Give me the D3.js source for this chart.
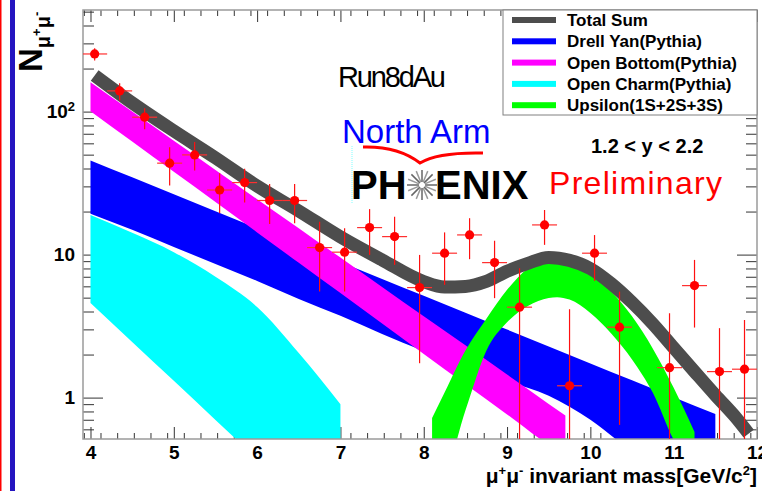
<!DOCTYPE html>
<html><head><meta charset="utf-8">
<script src="https://cdn.jsdelivr.net/npm/d3@7/dist/d3.min.js"></script>
<style>body{margin:0;background:#fff}svg{display:block}text{font-family:"Liberation Sans",Arial,Helvetica,sans-serif}</style>
</head><body><svg id="c" width="762" height="491"></svg>
<script>
// ---- data ----
const xMajorTicks = [4,5,6,7,8,9,10,11,12];
const yMajorTicks = [1,10,100];
const yTickLabels = ["1","10","10^2"];

const totalX  = [4.05,4.5,5.0,5.5,6.0,6.5,7.0,7.5,8.0,8.25,8.5,8.75,9.0,9.25,9.5,9.75,10.0,10.25,10.5,10.75,11.0,11.25,11.5,11.75,11.9];
const totalY  = [179,115.1,73.3,47.5,30.2,20.2,13.3,9.18,6.48,5.94,5.99,6.49,7.65,8.68,9.56,9.11,7.98,6.27,4.63,3.28,2.23,1.52,1.04,0.721,0.56];

const dyX  = [4.0,4.5,5.0,5.5,6.0,6.5,7.0,7.5,8.0,8.5,9.0,9.5,10.0,10.5,11.0,11.5];
const dyHi = [45.5,34.7,26.4,20.1,15.3,11.65,8.88,6.76,5.15,3.92,2.99,2.28,1.73,1.32,1.006,0.767];
const dyLo = [19.3,14.9,11.3,8.61,6.55,4.90,3.73,2.79,2.12,1.67,1.31,1.03,0.70,0.43,0.35,0.3];

const obX  = [4.0,4.5,5.0,5.5,6.0,6.5,7.0,7.5,8.0,8.5,9.0,9.5,9.7];
const obHi = [160.5,100.2,62.6,39.1,24.4,15.3,9.53,5.94,3.71,2.32,1.45,0.904,0.75];
const obLo = [100.7,61.8,37.9,23.3,14.3,8.76,5.38,3.30,2.02,1.24,0.763,0.468,0.40];

const ocX  = [4.0,4.5,5.0,5.5,6.0,6.5,7.0];
const ocHi = [18.95,14.2,10.4,7.0,4.3,2.05,0.9];
const ocLo = [4.59,2.45,1.31,0.698,0.373,0.2,0.107];

const upsX  = [8.1,8.25,8.5,8.75,9.0,9.25,9.5,9.6,9.75,10.0,10.25,10.5,10.75,11.0,11.25];
const upsHi = [0.721,1.086,2.135,3.55,5.67,8.01,9.27,9.26,8.99,7.45,5.52,3.70,2.20,1.17,0.575];
const upsLo = [0.3,0.312,0.814,2.12,3.36,4.38,4.98,5.04,4.85,3.91,2.81,1.85,1.08,0.506,0.3];

const ptX  = [4.05,4.35,4.65,4.95,5.25,5.55,5.85,6.15,6.45,6.75,7.05,7.35,7.65,7.95,8.25,8.55,8.85,9.15,9.45,9.75,10.05,10.35,10.95,11.25,11.55,11.85];
const ptY  = [253,139.6,91.4,43.6,49.8,28.3,31.9,23.9,23.9,11.2,10.4,15.45,13.36,5.88,10.23,13.73,8.79,4.29,16.13,1.21,10.23,3.11,1.62,6.07,1.52,1.58];
const ptHi = [277.5,158,105.6,56.4,61.4,37.1,39.9,31.2,31.2,17.0,15.3,20.8,18.4,9.95,14.3,17.97,12.5,8.03,20.5,4.15,13.7,5.51,3.89,9.18,3.06,3.49];
const ptLo = [227.3,119.4,75.3,30.4,38.7,19.5,23.1,16.4,16.6,5.51,5.51,9.95,8.47,1.74,6.14,9.29,4.96,0.3,11.7,0.1,6.55,0.644,0.1,3.09,0.1,0.1];
const ptXErr = 0.15;

const legendNames  = ["Total Sum","Drell Yan(Pythia)","Open Bottom(Pythia)","Open Charm(Pythia)","Upsilon(1S+2S+3S)"];
const legendColors = ["#4d4d4d","#0000ff","#ff00ff","#00ffff","#00ff00"];

// ---- layout ----
const L = 83, R = 757, T = 10, B = 439;
const svg = d3.select("#c");
const x = d3.scaleLinear().domain([3.91, 12]).range([L, R]);
const y = d3.scaleLog().domain([0.5135, 513.5]).range([B, T]);

// decorative left lines
svg.append("rect").attr("x",0).attr("y",0).attr("width",1.5).attr("height",491).attr("fill","#ff0000");
svg.append("rect").attr("x",10).attr("y",0).attr("width",5).attr("height",491).attr("fill","#2414c0");

svg.append("defs").append("clipPath").attr("id","frame")
  .append("rect").attr("x",L).attr("y",T).attr("width",R-L).attr("height",B-T);

// axes ticks
const xMinor = d3.range(3.92, 12.001, 0.2).map(v=>+v.toFixed(2)).filter(v=>v>3.91 && !xMajorTicks.some(m=>Math.abs(m-v)<1e-6));
const yMinor = [];
[0.1,1,10,100].forEach(d=>{for(let k=2;k<=9;k++){const v=d*k; if(v>0.5135 && v<513.5) yMinor.push(v);}});
const tickCol = "#333";
function styleAxis(g){ g.select(".domain").remove(); g.selectAll("line").attr("stroke",tickCol); }

svg.append("g").attr("transform",`translate(0,${B})`)
  .call(d3.axisBottom(x).tickValues(xMajorTicks).tickSize(-12).tickPadding(7).tickFormat(d3.format("d")))
  .call(styleAxis)
  .call(g=>g.selectAll("text").attr("font-size",19).attr("font-weight","bold").attr("fill","#000")
        .attr("font-family","Liberation Sans, Arial, sans-serif"));
svg.append("g").attr("transform",`translate(0,${B})`)
  .call(d3.axisBottom(x).tickValues(xMinor).tickSize(-6).tickFormat("")).call(styleAxis);
svg.append("g").attr("transform",`translate(0,${T})`)
  .call(d3.axisTop(x).tickValues(xMajorTicks).tickSize(-12).tickFormat("")).call(styleAxis);
svg.append("g").attr("transform",`translate(0,${T})`)
  .call(d3.axisTop(x).tickValues(xMinor).tickSize(-6).tickFormat("")).call(styleAxis);

const yl = svg.append("g").attr("transform",`translate(${L},0)`)
  .call(d3.axisLeft(y).tickValues(yMajorTicks).tickSize(-20).tickPadding(8).tickFormat((d,i)=>yTickLabels[i]))
  .call(styleAxis);
yl.selectAll("text").attr("font-size",19).attr("font-weight","bold").attr("fill","#000")
  .attr("font-family","Liberation Sans, Arial, sans-serif")
  .each(function(d,i){
    const lab = yTickLabels[i];
    if(lab.includes("^")){
      const [b,e] = lab.split("^");
      const t = d3.select(this).text(null);
      t.append("tspan").text(b);
      t.append("tspan").attr("font-size",13).attr("dy","-0.55em").text(e);
    }
  });
svg.append("g").attr("transform",`translate(${L},0)`)
  .call(d3.axisLeft(y).tickValues(yMinor).tickSize(-11).tickFormat("")).call(styleAxis);
svg.append("g").attr("transform",`translate(${R},0)`)
  .call(d3.axisRight(y).tickValues(yMajorTicks).tickSize(-20).tickFormat("")).call(styleAxis);
svg.append("g").attr("transform",`translate(${R},0)`)
  .call(d3.axisRight(y).tickValues(yMinor).tickSize(-11).tickFormat("")).call(styleAxis);

// bands
const plot = svg.append("g").attr("clip-path","url(#frame)");
function band(xs, lo, hi, color){
  const d = xs.map((v,i)=>({x:v, lo:lo[i], hi:hi[i]}));
  plot.append("path").datum(d)
    .attr("d", d3.area().x(p=>x(p.x)).y0(p=>y(p.lo)).y1(p=>y(p.hi)).curve(d3.curveMonotoneX))
    .attr("fill", color);
}
band(ocX, ocLo, ocHi, legendColors[3]);
band(dyX, dyLo, dyHi, legendColors[1]);
band(obX, obLo, obHi, legendColors[2]);
band(upsX, upsLo, upsHi, legendColors[4]);

// total sum thick line
svg.append("path").datum(totalX.map((v,i)=>({x:v,y:totalY[i]})))
  .attr("d", d3.line().x(p=>x(p.x)).y(p=>y(p.y)).curve(d3.curveMonotoneX))
  .attr("fill","none").attr("stroke",legendColors[0]).attr("stroke-width",13).attr("stroke-linecap","butt");

// frame
svg.append("rect").attr("x",L).attr("y",T).attr("width",R-L).attr("height",B-T)
  .attr("fill","none").attr("stroke","#9a9a9a").attr("stroke-width",1.5);

// data points
const pts = ptX.map((v,i)=>({x:v,y:ptY[i],lo:ptLo[i],hi:ptHi[i]}));
const pg = svg.append("g").attr("clip-path","url(#frame)");
pg.selectAll("line.v").data(pts).join("line").attr("class","v")
  .attr("x1",d=>x(d.x)).attr("x2",d=>x(d.x)).attr("y1",d=>y(d.lo)).attr("y2",d=>y(d.hi))
  .attr("stroke","#ff1010").attr("stroke-width",1.2);
pg.selectAll("line.h").data(pts).join("line").attr("class","h")
  .attr("x1",d=>x(d.x-ptXErr)).attr("x2",d=>x(d.x+ptXErr)).attr("y1",d=>y(d.y)).attr("y2",d=>y(d.y))
  .attr("stroke","#ff3030").attr("stroke-width",1.2);
pg.selectAll("circle").data(pts).join("circle")
  .attr("cx",d=>x(d.x)).attr("cy",d=>y(d.y)).attr("r",4.6).attr("fill","#ff0000");

// legend
const lg = svg.append("g");
lg.append("rect").attr("x",503).attr("y",T).attr("width",R-503).attr("height",105)
  .attr("fill","#fff").attr("stroke","#808080").attr("stroke-width",1);
legendNames.forEach((n,i)=>{
  const yy = 20 + i*21.3;
  lg.append("rect").attr("x",512).attr("y",yy-3).attr("width",44).attr("height",6).attr("fill",legendColors[i]);
  lg.append("text").attr("x",567).attr("y",yy+6).attr("font-size",17).attr("font-weight","bold").text(n);
});

// annotations
svg.append("text").attr("x",338).attr("y",87).attr("font-size",29).attr("textLength",108).text("Run8dAu");
svg.append("text").attr("x",342).attr("y",143).attr("font-size",33).attr("fill","#0000ff").text("North Arm");
svg.append("path").attr("d","M363,147 Q398,146 420,163 Q438,152 483,153")
  .attr("fill","none").attr("stroke","#ff0000").attr("stroke-width",3);
svg.append("text").attr("x",591).attr("y",153).attr("font-size",20).attr("font-weight","bold").text("1.2 < y < 2.2");
svg.append("text").attr("x",351).attr("y",199).attr("font-size",40).attr("font-weight","bold").text("PH");
svg.append("text").attr("x",435).attr("y",199).attr("font-size",40).attr("font-weight","bold").text("ENIX");
const star = svg.append("g").attr("transform","translate(422,185)");
d3.range(16).forEach(k=>{
  const a = k*Math.PI/8;
  star.append("line").attr("x1",3*Math.cos(a)).attr("y1",3*Math.sin(a))
    .attr("x2",15*Math.cos(a)).attr("y2",15*Math.sin(a))
    .attr("stroke", k%2? "#9a9a9a":"#666").attr("stroke-width",1.5);
});
svg.append("line").attr("x1",352).attr("x2",352).attr("y1",146).attr("y2",203)
  .attr("stroke","#80ffff").attr("stroke-dasharray","1,1");
svg.append("text").attr("x",549).attr("y",194).attr("font-size",32).attr("fill","#ff0000")
  .attr("textLength",173).text("Preliminary");

// axis titles
const yt = svg.append("text").attr("transform","translate(42,72) rotate(-90)").attr("font-weight","bold");
yt.append("tspan").attr("font-size",33).text("N");
yt.append("tspan").attr("font-size",20).attr("dy",8).text("μ");
yt.append("tspan").attr("font-size",13).attr("dy",-9).text("+");
yt.append("tspan").attr("font-size",20).attr("dy",9).text("μ");
yt.append("tspan").attr("font-size",13).attr("dy",-9).text("-");

const xt = svg.append("text").attr("x",757).attr("y",483).attr("text-anchor","end").attr("font-size",21).attr("font-weight","bold");
xt.append("tspan").text("μ");
xt.append("tspan").attr("font-size",13).attr("dy",-8).text("+");
xt.append("tspan").attr("dy",8).text("μ");
xt.append("tspan").attr("font-size",13).attr("dy",-8).text("-");
xt.append("tspan").attr("dy",8).text(" invariant mass[GeV/c");
xt.append("tspan").attr("font-size",13).attr("dy",-8).text("2");
xt.append("tspan").attr("dy",8).text("]");
</script></body></html>
